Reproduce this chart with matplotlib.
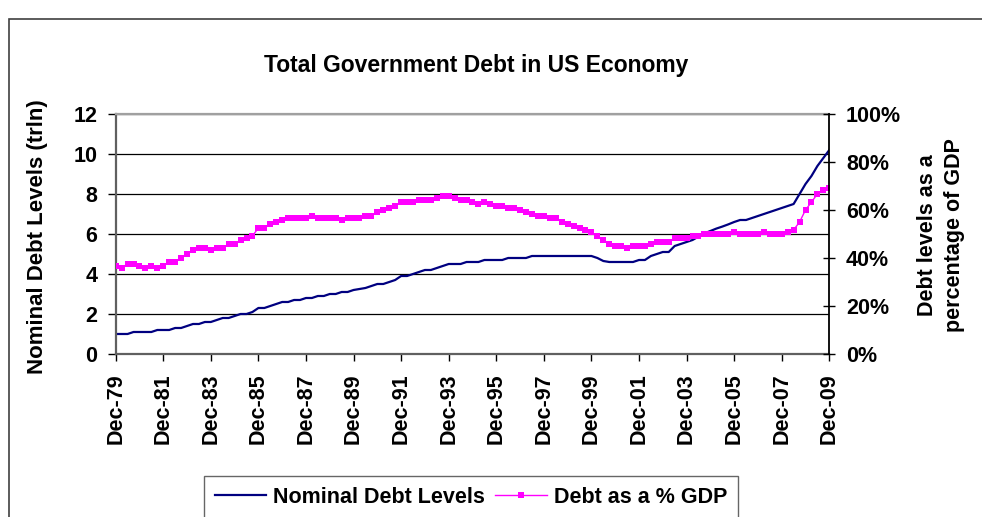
import numpy as np
import matplotlib
matplotlib.use("Agg")
import matplotlib.pyplot as plt
from matplotlib.patches import Rectangle

plt.rcParams['font.family'] = ['Liberation Sans', 'DejaVu Sans']
plt.rcParams['font.weight'] = 'bold'

# quarterly data, Dec-79 .. Dec-09
nominal = [1.0, 1.0, 1.0, 1.1, 1.1, 1.1, 1.1, 1.2,
           1.2, 1.2, 1.3, 1.3, 1.4, 1.5, 1.5, 1.6,
           1.6, 1.7, 1.8, 1.8, 1.9, 2.0, 2.0, 2.1,
           2.3, 2.3, 2.4, 2.5, 2.6, 2.6, 2.7, 2.7,
           2.8, 2.8, 2.9, 2.9, 3.0, 3.0, 3.1, 3.1,
           3.2, 3.25, 3.3, 3.4, 3.5, 3.5, 3.6, 3.7,
           3.9, 3.9, 4.0, 4.1, 4.2, 4.2, 4.3, 4.4,
           4.5, 4.5, 4.5, 4.6, 4.6, 4.6, 4.7, 4.7,
           4.7, 4.7, 4.8, 4.8, 4.8, 4.8, 4.9, 4.9,
           4.9, 4.9, 4.9, 4.9, 4.9, 4.9, 4.9, 4.9,
           4.9, 4.8, 4.65, 4.6, 4.6, 4.6, 4.6, 4.6,
           4.7, 4.7, 4.9, 5.0, 5.1, 5.1, 5.4, 5.5,
           5.6, 5.7, 5.87, 6.03, 6.15, 6.27, 6.37, 6.48,
           6.6, 6.7, 6.7, 6.8, 6.9, 7.0, 7.1, 7.2,
           7.3, 7.4, 7.5, 8.0, 8.5, 8.9, 9.4, 9.8,
           10.2]
pct_gdp = [36.8, 36.0, 37.5, 37.5, 36.7, 35.8, 36.8, 35.8,
           36.8, 38.5, 38.5, 40.1, 41.8, 43.3, 44.2, 44.2,
           43.3, 44.2, 44.2, 45.8, 45.8, 47.5, 48.3, 49.2,
           52.5, 52.5, 54.2, 55.0, 55.8, 56.7, 56.7, 56.7,
           56.7, 57.5, 56.7, 56.7, 56.7, 56.7, 55.8, 56.7,
           56.7, 56.7, 57.5, 57.5, 59.2, 60.0, 60.8, 61.7,
           63.3, 63.3, 63.3, 64.2, 64.2, 64.2, 65.0, 65.8,
           65.8, 65.0, 64.2, 64.2, 63.3, 62.5, 63.3, 62.5,
           61.7, 61.7, 60.8, 60.8, 60.0, 59.2, 58.3, 57.5,
           57.5, 56.7, 56.7, 55.0, 54.2, 53.3, 52.5, 51.7,
           50.8, 49.2, 47.5, 45.8, 45.0, 45.0, 44.2, 45.0,
           45.0, 45.0, 45.8, 46.7, 46.7, 46.7, 48.3, 48.3,
           48.3, 49.2, 49.2, 50.0, 50.0, 50.0, 50.0, 50.0,
           50.8, 50.0, 50.0, 50.0, 50.0, 50.8, 50.0, 50.0,
           50.0, 50.8, 51.7, 55.0, 60.0, 63.3, 66.7, 68.3,
           69.2]
tick_labels = ["Dec-79", "Dec-81", "Dec-83", "Dec-85", "Dec-87", "Dec-89",
               "Dec-91", "Dec-93", "Dec-95", "Dec-97", "Dec-99", "Dec-01",
               "Dec-03", "Dec-05", "Dec-07", "Dec-09"]

q = np.arange(len(nominal))
fs = 15.5

fig = plt.figure(figsize=(9.82, 5.17), dpi=100)
ax = fig.add_axes([0.1178, 0.3153, 0.7267, 0.4642])
ax2 = ax.twinx()

ax.plot(q, nominal, color="#000080", lw=1.6, label="Nominal Debt Levels")
ax2.plot(q, pct_gdp, color="#ff00ff", lw=1.0, marker="s", markersize=5,
         markeredgewidth=0, label="Debt as a % GDP")

ax.set_xlim(0, 120)
ax.set_ylim(0, 12)
ax.set_yticks(range(0, 13, 2))
ax.set_xticks(range(0, 121, 8))
ax.set_xticklabels(tick_labels, rotation=90)
ax.grid(axis="y", color="black", lw=0.9)
ax.set_axisbelow(True)
ax2.set_ylim(0, 100)
ax2.set_yticks(range(0, 101, 20))
ax2.set_yticklabels([f"{v}%" for v in range(0, 101, 20)])

ax.tick_params(axis="y", labelsize=fs, length=6, width=1, pad=7)
ax.tick_params(axis="x", labelsize=fs, length=5, width=1, pad=9)
ax2.tick_params(axis="y", labelsize=fs, length=8, width=1, direction="inout", pad=8)
for a in (ax, ax2):
    for lab in a.get_xticklabels() + a.get_yticklabels():
        lab.set_fontweight("bold")
    for s in a.spines.values():
        s.set_visible(False)
ax.spines["left"].set_visible(True)
ax.spines["left"].set_color("#606060")
ax.spines["left"].set_linewidth(1.6)
ax.spines["bottom"].set_visible(True)
ax.spines["bottom"].set_color("#606060")
ax.spines["bottom"].set_linewidth(1.6)
ax.spines["top"].set_visible(True)
ax.spines["top"].set_color("#a0a0a0")
ax.spines["top"].set_linewidth(1.6)
ax2.spines["right"].set_visible(True)
ax2.spines["right"].set_color("black")
ax2.spines["right"].set_linewidth(1.3)

fig.text(0.4847, 0.874, "Total Government Debt in US Economy", fontsize=16.5,
         fontweight="bold", ha="center", va="center")
fig.text(0.038, 0.543, "Nominal Debt Levels (trln)", fontsize=16,
         fontweight="bold", rotation=90, ha="center", va="center")
fig.text(0.958, 0.545, "Debt levels as a\npercentage of GDP", fontsize=15.5,
         fontweight="bold", rotation=90, ha="center", va="center",
         multialignment="center", linespacing=1.35)

h1, l1 = ax.get_legend_handles_labels()
h2, l2 = ax2.get_legend_handles_labels()
leg = fig.legend(h1 + h2, l1 + l2, loc="upper left",
                 bbox_to_anchor=(0.2077, 1 - 476 / 517), ncol=2, frameon=True,
                 fancybox=False, edgecolor="#404040",
                 handlelength=2.4, columnspacing=0.5, handletextpad=0.3,
                 borderpad=0.5, borderaxespad=0,
                 prop={"weight": "bold", "size": fs})
leg.get_frame().set_linewidth(1.0)

fig.patches.append(Rectangle((0.009, -0.2), 1.2, 0.2 + 1 - 19 / 517,
                             transform=fig.transFigure, fill=False,
                             edgecolor="#404040", lw=1.2))

fig.savefig("out.png", dpi=100)
